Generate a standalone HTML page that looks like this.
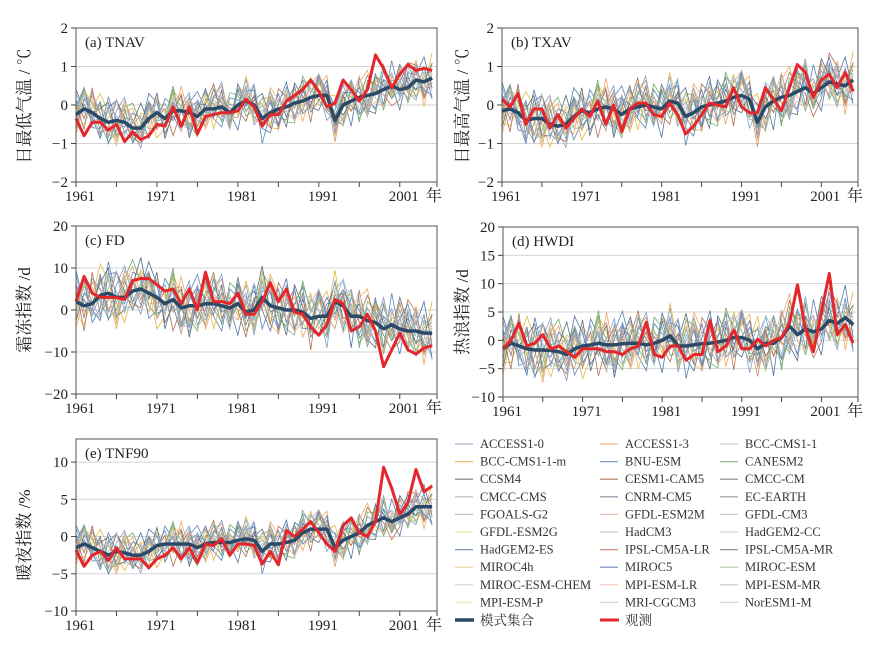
<!DOCTYPE html>
<html><head><meta charset="utf-8"><style>
html,body{margin:0;padding:0;background:#fff;}
svg{display:block;}
</style></head><body>
<svg id="chart" width="873" height="646" viewBox="0 0 873 646" xmlns="http://www.w3.org/2000/svg">
<rect x="0" y="0" width="873" height="646" fill="#fff"/>
</svg>
<script>
// ---- data ----
const years = [1961,1971,1981,1991,2001];
const yTicksA = [-2,-1,0,1,2];
const yTicksC = [-20,-10,0,10,20];
const yTicksD = [-10,-5,0,5,10,15,20];
const yTicksE = [-10,-5,0,5,10];

const ensA = [-0.25,-0.1,-0.2,-0.35,-0.45,-0.4,-0.45,-0.6,-0.6,-0.35,-0.2,-0.35,-0.15,-0.15,-0.2,-0.3,-0.1,-0.1,-0.05,-0.2,0,0.1,0,-0.35,-0.2,-0.1,-0.05,0.05,0.1,0.2,0.25,0.25,-0.4,0,0.1,0.2,0.25,0.3,0.4,0.5,0.4,0.45,0.65,0.6,0.7];
const obsA = [-0.35,-0.8,-0.45,-0.45,-0.65,-0.5,-0.95,-0.7,-0.9,-0.8,-0.5,-0.55,-0.05,-0.55,-0.05,-0.75,-0.3,-0.25,-0.2,-0.2,-0.15,0.15,-0.05,-0.55,-0.25,-0.25,0.1,0.25,0.4,0.65,0.35,-0.05,0.05,0.65,0.4,0.1,0.4,1.3,0.95,0.45,0.8,1.05,0.9,0.95,0.9];
const ensB = [-0.15,-0.1,-0.2,-0.4,-0.35,-0.35,-0.5,-0.55,-0.5,-0.3,-0.15,-0.2,-0.1,-0.05,-0.1,-0.25,-0.1,-0.05,0,-0.05,-0.1,0.1,0.05,-0.3,-0.2,-0.05,0,0.05,0.1,0.2,0.25,0.15,-0.45,-0.05,0.1,0.2,0.25,0.35,0.45,0.3,0.45,0.6,0.55,0.5,0.65];
const obsB = [0.15,-0.05,0.3,-0.5,-0.1,-0.1,-0.6,-0.25,-0.6,-0.35,-0.1,-0.3,0.1,-0.5,0,-0.7,-0.1,0.05,0.05,-0.25,-0.3,0.05,-0.25,-0.75,-0.55,-0.25,0.05,0,-0.05,0.45,-0.05,-0.2,-0.2,0.45,0.15,-0.15,0.45,1.05,0.85,0.2,0.65,0.8,0.45,0.85,0.35];
const ensC = [2,1,1.5,3.5,4,3,3,4.5,5,4,3,1.5,2.5,0.5,1,1,1.5,1.5,1,0.5,1.5,-0.5,0,3,1,0.5,0,0,-0.5,-2,-1.5,-1.5,2,1,-1.5,-1.5,-2.5,-3,-4.5,-3.5,-4.5,-5,-5,-5.5,-5.5];
const obsC = [2,8,4,3,3,3,2.5,7,7.5,7.5,6,4.5,5,1.5,5,0,9,2,2,1.5,4,-1,-1,2,6.5,2,5,-0.5,-1,-4,-6,-3.5,2.5,1.5,-5,-4,-1,-5,-13.5,-9.5,-5.5,-9.5,-10.5,-9,-8.5];
const ensD = [-1.5,-0.5,-1,-1.5,-1.7,-1.7,-1.8,-2,-2.5,-1.5,-1,-0.8,-0.5,-0.8,-0.8,-0.6,-0.5,-0.5,-0.8,-0.5,0,0.8,-1,-1,-0.8,-0.6,-0.5,-0.3,0,0.5,0.5,0,-1.5,-0.5,-0.5,0.5,2.5,1,2,1.5,2,3.5,3,4,2.8];
const obsD = [-1.5,0,3,-1,-0.5,1,-1.5,-1,-2,-3,-1.5,-1.5,-1.5,-2,-2,-2.5,-1.5,-1,3.2,-2.5,-3,-1,-1,-3.5,-2.5,-2.5,3.5,-2,-1,1.8,-1.5,-1.5,0.2,-1,0,0.5,3,9.8,2,-2,5,11.8,1,2.8,-0.5];
const ensE = [-1.5,-1,-1.5,-2,-2.5,-2,-2.2,-2.5,-2.5,-2,-1.2,-1,-1,-1,-1,-1.5,-1,-0.8,-0.8,-0.8,-0.5,-0.3,-0.5,-2,-1,-1,-0.8,-0.5,0.5,1,1,1,-1.5,-0.5,0,0.5,1.5,2,2.5,2,2.5,3,4,4,4];
const obsE = [-1.8,-4,-2.5,-2,-3.2,-1.5,-3,-3,-3,-4.2,-3,-2.5,-1.5,-3,-1.5,-3.5,-1,-1.2,-0.3,-2.5,-1,-1,-1.2,-3.7,-2,-3.8,0.8,0,1,2,0.5,-1,-2,1.5,2.5,0.5,0,2,9.3,6.5,3,4.5,9,6,6.8];

// model deviations from ensemble (in per-panel steps)
const dev1 = [3,-2,4,1,-3,2,5,-1,-4,2,0,3,-2,1,4,-3,-1,2,5,-2,0,3,-4,1,2,-3,4,0,-2,3,1,-5,2,4,-1,-3,2,0,5,-2,3,-1,-4,2,1];
const dev2 = [-4,1,-2,3,0,-5,2,4,-1,-3,3,1,-2,5,-1,2,-4,0,3,-2,4,1,-3,-1,5,2,-2,3,-4,0,2,4,-3,1,-2,3,5,-1,-3,2,0,-2,4,-5,3];
const dev3 = [1,4,-3,-2,5,0,-1,3,2,-4,-2,4,1,-3,2,5,0,-2,-4,3,1,-1,4,-5,0,3,-2,1,4,-3,-1,2,0,-4,3,1,-2,4,-3,5,-1,2,-2,3,-4];
const dev4 = [-2,-3,1,5,2,-1,-4,0,3,1,-5,-2,4,2,-3,0,3,-4,1,2,-2,5,0,3,-3,-4,1,2,-1,4,-2,0,5,-3,2,-1,-4,3,1,-2,4,0,-3,-1,5];
const dev5 = [5,0,-1,-4,3,4,1,-3,0,5,2,-3,-1,-4,1,3,-2,4,-1,0,-5,2,3,-2,-4,1,5,-3,2,-1,0,3,-2,2,-5,4,-1,-3,2,0,-4,3,1,5,-2];
const dev6 = [0,3,2,-1,-4,-2,3,5,1,-2,-3,0,5,-3,-2,-4,2,1,-3,4,2,-3,-1,4,3,-1,-3,-4,5,1,3,-2,-1,0,4,-5,3,2,-4,1,2,-3,0,-2,-1];
const dev7 = [-3,2,0,2,4,-3,-2,1,5,-1,4,-4,0,3,-5,1,4,-1,2,-3,3,-2,1,5,-1,0,-4,4,1,-2,-3,1,3,-2,0,2,-3,-4,4,-1,5,1,-2,0,3];
const dev8 = [2,-4,5,-3,-1,4,0,-2,-3,3,-1,2,-5,0,3,-2,1,5,-2,1,-1,-4,2,0,-3,4,2,-1,3,-5,4,-3,1,2,-2,0,4,1,-1,-4,-2,5,3,-3,0];

const modelNames = ["ACCESS1-0","ACCESS1-3","BCC-CMS1-1","BCC-CMS1-1-m","BNU-ESM","CANESM2","CCSM4","CESM1-CAM5","CMCC-CM","CMCC-CMS","CNRM-CM5","EC-EARTH","FGOALS-G2","GFDL-ESM2M","GFDL-CM3","GFDL-ESM2G","HadCM3","HadGEM2-CC","HadGEM2-ES","IPSL-CM5A-LR","IPSL-CM5A-MR","MIROC4h","MIROC5","MIROC-ESM","MIROC-ESM-CHEM","MPI-ESM-LR","MPI-ESM-MR","MPI-ESM-P","MRI-CGCM3","NorESM1-M"];
const modelColors = ["#9fb4cc","#f0b090","#c8d0d8","#f2c070","#7f9fc0","#8fc08a","#6a7a8a","#b07a60","#7a8a7a","#c0b0a0","#8090a8","#90a090","#b8c4d0","#e8c0b0","#c8d0c0","#f0e0b0","#c8cce0","#d0d8c8","#7a9ab8","#d09080","#8a9aa0","#f0d0a0","#6f86b0","#b0c8a8","#d0d4d8","#f0c8b8","#c0c8c8","#f5e8c0","#d0d4e0","#d8dcd0"];
const plotLineColors = ["#7f9fc8","#f0a860","#5b82b8","#e8b840","#4f74a8","#6fae6a","#5a6a7a","#b07050","#8aa0c0","#d09070","#6080b0","#80a080","#a0b8d0","#e0b090","#90a8c8","#c0c080"];

const NS = "http://www.w3.org/2000/svg";
const svg = document.getElementById('chart');
function mk(tag, attrs, parent){
  const e = document.createElementNS(NS, tag);
  for (const k in attrs) e.setAttribute(k, attrs[k]);
  (parent||svg).appendChild(e);
  return e;
}

const devs = [dev1,dev2,dev3,dev4,dev5,dev6,dev7,dev8];
const X0 = 1961, X1 = 2005.6;

function drawPanel(p){
  const g = mk('g', {});
  
  
  const xs = v => p.L + (v - X0) / (X1 - X0) * (p.R - p.L);
  const ys = v => p.B - (v - p.ymin) / (p.ymax - p.ymin) * (p.B - p.T);
  p.ticks.forEach(t => {
    const y = ys(t);
    if (t !== p.ymin && Math.abs(y - p.T) > 2) {
      const gl = mk('line', {x1:p.L, x2:p.R, y1:y, y2:y, stroke:'#d4d4d4', 'stroke-width':1}, g);
      
      
    }
    const tk = mk('line', {x1:p.L-5, x2:p.L, y1:y, y2:y, stroke:'#444', 'stroke-width':1}, g);
    
    
    const tl = mk('text', {x:p.L-8, y:y+5, 'text-anchor':'end', 'font-size':15, fill:'#222', 'font-family':'"Liberation Serif", serif'}, g);
    tl.textContent = t < 0 ? '\u2212' + Math.abs(t) : String(t);
    
    
  });
  for (let yr = 1961; yr <= 2006; yr += 5) {
    const x = Math.min(xs(yr), p.R);
    const xt = mk('line', {x1:x, x2:x, y1:p.B, y2:p.B+5, stroke:'#444', 'stroke-width':1}, g);
    
    
  }
  years.forEach(yr => {
    const xl = mk('text', {x:xs(yr)+4, y:p.B+19, 'text-anchor':'middle', 'font-size':15, fill:'#222', 'font-family':'"Liberation Serif", serif'}, g);
    xl.textContent = String(yr);
    
    
  });
  const nian = mk('text', {x:p.R-3, y:p.B+19, 'text-anchor':'middle', 'font-size':16, fill:'#222', 'font-family':'"Liberation Serif", "Noto Serif CJK SC", serif'}, g);
  nian.textContent = '年';
  
  
  const cp = 'clip-' + p.id;
  const cl = mk('clipPath', {id:cp}, g);
  mk('rect', {x:p.L, y:p.T, width:p.R-p.L, height:p.B-p.T}, cl);
  for (let k = 0; k < 16; k++) {
    const d = devs[k % 8];
    const shift = k < 8 ? 0 : 17 + (k % 8);
    const sc = p.sc * (k < 8 ? 1 : 0.85);
    const pts = p.ens.map((v, i) => xs(X0 + i).toFixed(1) + ',' + ys(v + d[(i + shift) % d.length] * sc).toFixed(1)).join(' ');
    const ml = mk('polyline', {points:pts, fill:'none', stroke:plotLineColors[k], 'stroke-width':0.8, 'clip-path':'url(#'+cp+')'}, g);
    
    
  }
  const ePts = p.ens.map((v, i) => xs(X0 + i).toFixed(1) + ',' + ys(v).toFixed(1)).join(' ');
  const el = mk('polyline', {points:ePts, fill:'none', stroke:'#2b4a68', 'stroke-width':3.5, 'stroke-linejoin':'round'}, g);
  
  
  const oPts = p.obs.map((v, i) => xs(X0 + i).toFixed(1) + ',' + ys(v).toFixed(1)).join(' ');
  const ol = mk('polyline', {points:oPts, fill:'none', stroke:'#e5262b', 'stroke-width':3, 'stroke-linejoin':'round'}, g);
  
  
  const bx = mk('rect', {x:p.L, y:p.T, width:p.R-p.L, height:p.B-p.T, fill:'none', stroke:'#555', 'stroke-width':1}, g);
  
  
  const pl = mk('text', {x:p.L+9, y:p.T+19, 'font-size':15, fill:'#222', 'font-family':'"Liberation Serif", serif'}, g);
  pl.textContent = p.label;
  
  
  const yt = mk('text', {x:0, y:0, 'text-anchor':'middle', 'font-size':17, fill:'#222', 'font-family':'"Liberation Serif", "Noto Serif CJK SC", serif', transform:'translate('+p.tx+','+p.ty+') rotate(-90)'}, g);
  yt.textContent = p.ytitle;
  
  
}

drawPanel({id:'a', L:76, R:437, T:28, B:182, ymin:-2, ymax:2, ticks:yTicksA, ens:ensA, obs:obsA, sc:0.13, label:'(a) TNAV', ytitle:'日最低气温 / ℃', tx:30, ty:106});
drawPanel({id:'b', L:502, R:858, T:28, B:182, ymin:-2, ymax:2, ticks:yTicksA, ens:ensB, obs:obsB, sc:0.15, label:'(b) TXAV', ytitle:'日最高气温 / ℃', tx:468, ty:106});
drawPanel({id:'c', L:76, R:437, T:226, B:394, ymin:-20, ymax:20, ticks:yTicksC, ens:ensC, obs:obsC, sc:1.5, label:'(c) FD', ytitle:'霜冻指数 /d', tx:30, ty:310});
drawPanel({id:'d', L:503, R:858, T:227, B:397, ymin:-10, ymax:20, ticks:yTicksD, ens:ensD, obs:obsD, sc:1.15, label:'(d) HWDI', ytitle:'热浪指数 /d', tx:468, ty:312});
drawPanel({id:'e', L:76, R:437, T:439, B:611, ymin:-10, ymax:13.1, ticks:yTicksE, ens:ensE, obs:obsE, sc:0.6, label:'(e) TNF90', ytitle:'暖夜指数 /%', tx:30, ty:535});

const colX = [455, 600, 720];
const rowY0 = 444, rowDy = 17.6;
modelNames.forEach((n, i) => {
  const r = Math.floor(i / 3), c = i % 3;
  const y = rowY0 + r * rowDy;
  const g = mk('g', {});
  
  
  mk('line', {x1:colX[c], x2:colX[c]+18, y1:y, y2:y, stroke:modelColors[i], 'stroke-width':1.2}, g);
  const t = mk('text', {x:colX[c]+25, y:y+4, 'font-size':12.5, fill:'#333', 'font-family':'"Liberation Serif", serif'}, g);
  t.textContent = n;
});
[['模式集合', '#2b4a68', 455, 3.5], ['观测', '#e5262b', 600, 3]].forEach(a => {
  const y = rowY0 + 10 * rowDy;
  const g = mk('g', {});
  
  
  mk('line', {x1:a[2], x2:a[2]+19, y1:y, y2:y, stroke:a[1], 'stroke-width':a[3]}, g);
  const t = mk('text', {x:a[2]+25, y:y+5, 'font-size':13.5, fill:'#333', 'font-family':'"Liberation Serif", "Noto Serif CJK SC", serif'}, g);
  t.textContent = a[0];
});
</script>
</body></html>
